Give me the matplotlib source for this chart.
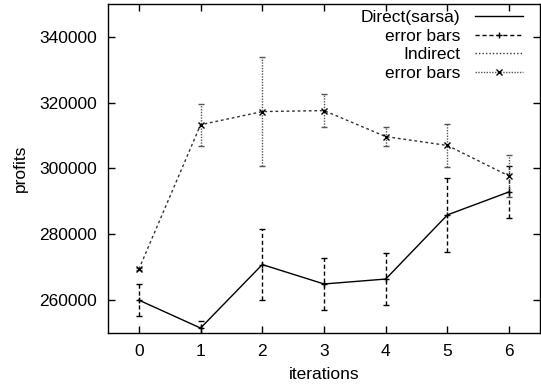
import numpy as np
import matplotlib.pyplot as plt
from matplotlib.lines import Line2D

plt.rcParams['font.family'] = ['Liberation Sans', 'DejaVu Sans']

iterations = [0, 1, 2, 3, 4, 5, 6]
direct = [260000, 251500, 270800, 264900, 266400, 285900, 292900]
direct_err = [4900, 2000, 10800, 7900, 8000, 11300, 8000]
indirect = [269400, 313300, 317300, 317600, 309700, 307000, 297700]
indirect_err = [400, 6400, 16500, 5100, 2900, 6400, 6500]

fig = plt.figure(figsize=(5.41, 3.91), dpi=100)
ax = fig.add_axes([108 / 541, 58 / 391, 432 / 541, 329 / 391])

fs = 12.5

# Direct (sarsa)
ax.plot(iterations, direct, color='black', lw=1.0, ls='-')
eb1 = ax.errorbar(iterations, direct, yerr=direct_err, fmt='+', color='black',
                  ms=5, mew=1.0, elinewidth=1.0, capsize=2.5, capthick=1.0)
eb1[2][0].set_linestyle((0, (3, 2)))

# Indirect
ax.plot(iterations, indirect, color='#333333', lw=1.0, ls=(0, (2, 2)))
eb2 = ax.errorbar(iterations, indirect, yerr=indirect_err, fmt='x', color='#555555',
                  ms=4.5, mew=1.0, elinewidth=1.0, capsize=2.5, capthick=1.0,
                  mec='black')
eb2[2][0].set_linestyle((0, (1, 1)))

ax.set_xlim(-0.5, 6.5)
ax.set_ylim(250000, 350000)
ax.set_xticks(iterations)
ax.set_yticks([260000, 280000, 300000, 320000, 340000])
ax.tick_params(direction='in', length=5, top=True, right=True, labelsize=fs,
               width=1.0, pad=8)
for s in ax.spines.values():
    s.set_linewidth(1.0)

ax.set_xlabel('iterations', fontsize=fs, labelpad=6)
ax.set_ylabel('profits', fontsize=fs, labelpad=8)

handles = [
    Line2D([], [], color='black', lw=1.0, ls='-'),
    Line2D([], [], color='black', lw=1.0, ls=(0, (3, 2)), marker='+', ms=5,
           markevery=[1]),
    Line2D([], [], color='#333333', lw=1.0, ls=(0, (1, 1.5))),
    Line2D([], [], color='#555555', lw=1.0, ls=(0, (1, 1)), marker='x', ms=4,
           mec='black', markevery=[1]),
]
for h in handles:
    h.set_xdata([0, 0.5, 1])
    h.set_ydata([0, 0, 0])
labels = ['Direct(sarsa)', 'error bars', 'Indirect', 'error bars']
ax.legend(handles, labels, loc='upper right', frameon=False, markerfirst=False,
          alignment='right', fontsize=fs, handlelength=2.75, labelspacing=0.2,
          handletextpad=0.85, borderaxespad=0.0, borderpad=0.0,
          bbox_to_anchor=(1 - 17 / 432, 1 - 6 / 329))

fig.savefig('out.png', dpi=100)
